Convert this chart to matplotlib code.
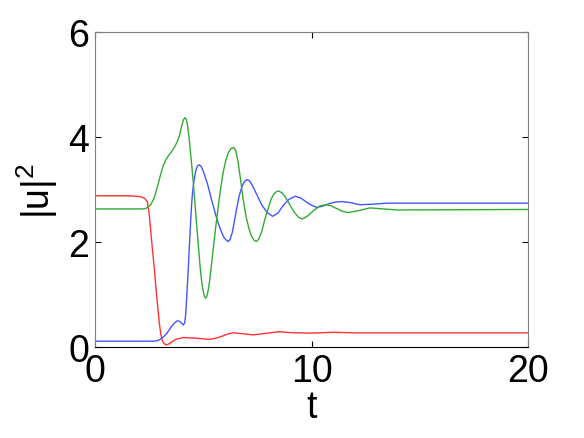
import numpy as np
import matplotlib
matplotlib.use('Agg')
import matplotlib.pyplot as plt

plt.rcParams['font.family'] = ['Liberation Sans', 'DejaVu Sans']
plt.rcParams['mathtext.fontset'] = 'custom'
plt.rcParams['mathtext.rm'] = 'Liberation Sans'

# values
t_red = [0, 1.5, 2.0, 2.2, 2.32, 2.42, 2.5, 2.57, 2.65, 2.73, 2.81, 2.89, 2.97, 3.04,
         3.12, 3.2, 3.3, 3.42, 3.55, 3.75, 4.08, 4.6, 5.0, 5.3, 5.6, 5.9, 6.15, 6.4, 6.9,
         7.3, 7.9, 8.5, 9.2, 10, 11, 12, 20]
u_red = [2.88, 2.88, 2.87, 2.85, 2.82, 2.76, 2.55, 2.22, 1.87, 1.53, 1.15, 0.79, 0.46, 0.24,
         0.11, 0.06, 0.04, 0.06, 0.10, 0.15, 0.18, 0.17, 0.155, 0.145, 0.17, 0.21, 0.25, 0.27,
         0.25, 0.23, 0.26, 0.29, 0.27, 0.265, 0.28, 0.27, 0.27]

t_blue = [0, 2.7, 2.85, 2.95, 3.05, 3.15, 3.3, 3.45, 3.55, 3.68, 3.8, 3.9, 3.98, 4.08,
          4.14, 4.19, 4.23, 4.27, 4.31, 4.35, 4.39, 4.43, 4.46, 4.5, 4.54, 4.6, 4.65,
          4.72, 4.8, 4.88, 4.95, 5.05, 5.2, 5.33, 5.46, 5.58, 5.7, 5.83, 5.95, 6.05, 6.16,
          6.24, 6.34, 6.44, 6.54, 6.66, 6.8, 6.92, 7.03, 7.15, 7.3, 7.5, 7.7, 7.95, 8.2,
          8.45, 8.7, 8.95, 9.24, 9.5, 9.7, 9.95, 10.24, 10.5, 10.8, 11.1, 11.4, 11.8,
          12.24, 12.8, 13.5, 14.5, 20]
u_blue = [0.11, 0.11, 0.12, 0.13, 0.16, 0.19, 0.25, 0.34, 0.40, 0.46, 0.50, 0.49, 0.46,
          0.42, 0.46, 0.62, 0.91, 1.2, 1.5, 1.85, 2.18, 2.48, 2.7, 2.92, 3.07, 3.24, 3.35,
          3.44, 3.47, 3.45, 3.40, 3.29, 3.1, 2.89, 2.69, 2.51, 2.35, 2.2, 2.09, 2.04, 2.01,
          2.05, 2.18, 2.4, 2.63, 2.88, 3.07, 3.16, 3.19, 3.16, 3.05, 2.88, 2.71, 2.56, 2.49,
          2.55, 2.70, 2.81, 2.87, 2.84, 2.78, 2.71, 2.66, 2.68, 2.73, 2.76, 2.77, 2.75,
          2.71, 2.72, 2.74, 2.74, 2.74]

t_green = [0, 2.2, 2.35, 2.5, 2.6, 2.7, 2.8, 2.9, 3.02, 3.15, 3.28, 3.4, 3.55, 3.7, 3.8,
           3.9, 3.98, 4.05, 4.1, 4.16, 4.22, 4.28, 4.34, 4.4, 4.47, 4.54, 4.62, 4.7, 4.78,
           4.85, 4.92, 4.98, 5.04, 5.1, 5.16, 5.22, 5.3, 5.38, 5.46, 5.58, 5.7, 5.81, 5.92,
           6.04, 6.15, 6.28, 6.41, 6.5, 6.6, 6.72, 6.84, 6.97, 7.1, 7.22, 7.35, 7.46, 7.57,
           7.7, 7.84, 7.99, 8.12, 8.25, 8.38, 8.5, 8.65, 8.8, 9.0, 9.2, 9.4, 9.58, 9.8,
           10.1, 10.4, 10.66, 10.9, 11.1, 11.4, 11.7, 12.2, 12.7, 13.3, 14, 20]
u_green = [2.63, 2.63, 2.64, 2.68, 2.73, 2.81, 2.93, 3.08, 3.27, 3.45, 3.57, 3.65, 3.73,
           3.83, 3.91, 4.03, 4.17, 4.28, 4.34, 4.37, 4.33, 4.2, 4.0, 3.75, 3.45, 3.13, 2.72,
           2.3, 1.9, 1.55, 1.27, 1.1, 0.98, 0.93, 0.96, 1.06, 1.28, 1.57, 1.87, 2.3, 2.7,
           3.04, 3.33, 3.55, 3.69, 3.78, 3.80, 3.74, 3.55, 3.2, 2.82, 2.5, 2.27, 2.12,
           2.03, 2.01, 2.06, 2.2, 2.42, 2.63, 2.8, 2.91, 2.96, 2.97, 2.93, 2.85, 2.71, 2.57,
           2.47, 2.44, 2.49, 2.6, 2.69, 2.71, 2.69, 2.65, 2.59, 2.56, 2.6, 2.65, 2.63, 2.61,
           2.62]

fig = plt.figure(figsize=(5.84, 4.39), dpi=100)
ax = fig.add_axes([0.1627, 0.2073, 0.7414, 0.7175])

ax.plot(t_red, u_red, color='#ff3333', lw=1)
ax.plot(t_blue, u_blue, color='#4455ff', lw=1)
ax.plot(t_green, u_green, color='#33aa33', lw=1)

ax.set_xlim(0, 20)
ax.set_ylim(0, 6)
ax.set_xticks([0, 10, 20])
ax.set_yticks([0, 2, 4, 6])
ax.tick_params(direction='in', length=4, width=0.8, labelsize=27, pad=4,
               top=True, right=True)
for s in ['left', 'top', 'right']:
    ax.spines[s].set_color('#808080')
ax.spines['bottom'].set_color('black')

ax.set_xlabel('t', fontsize=27, labelpad=0)
ax.set_ylabel(r'|u|$^\mathrm{2}$', fontsize=27, labelpad=6)

fig.savefig('out.png', dpi=100)
